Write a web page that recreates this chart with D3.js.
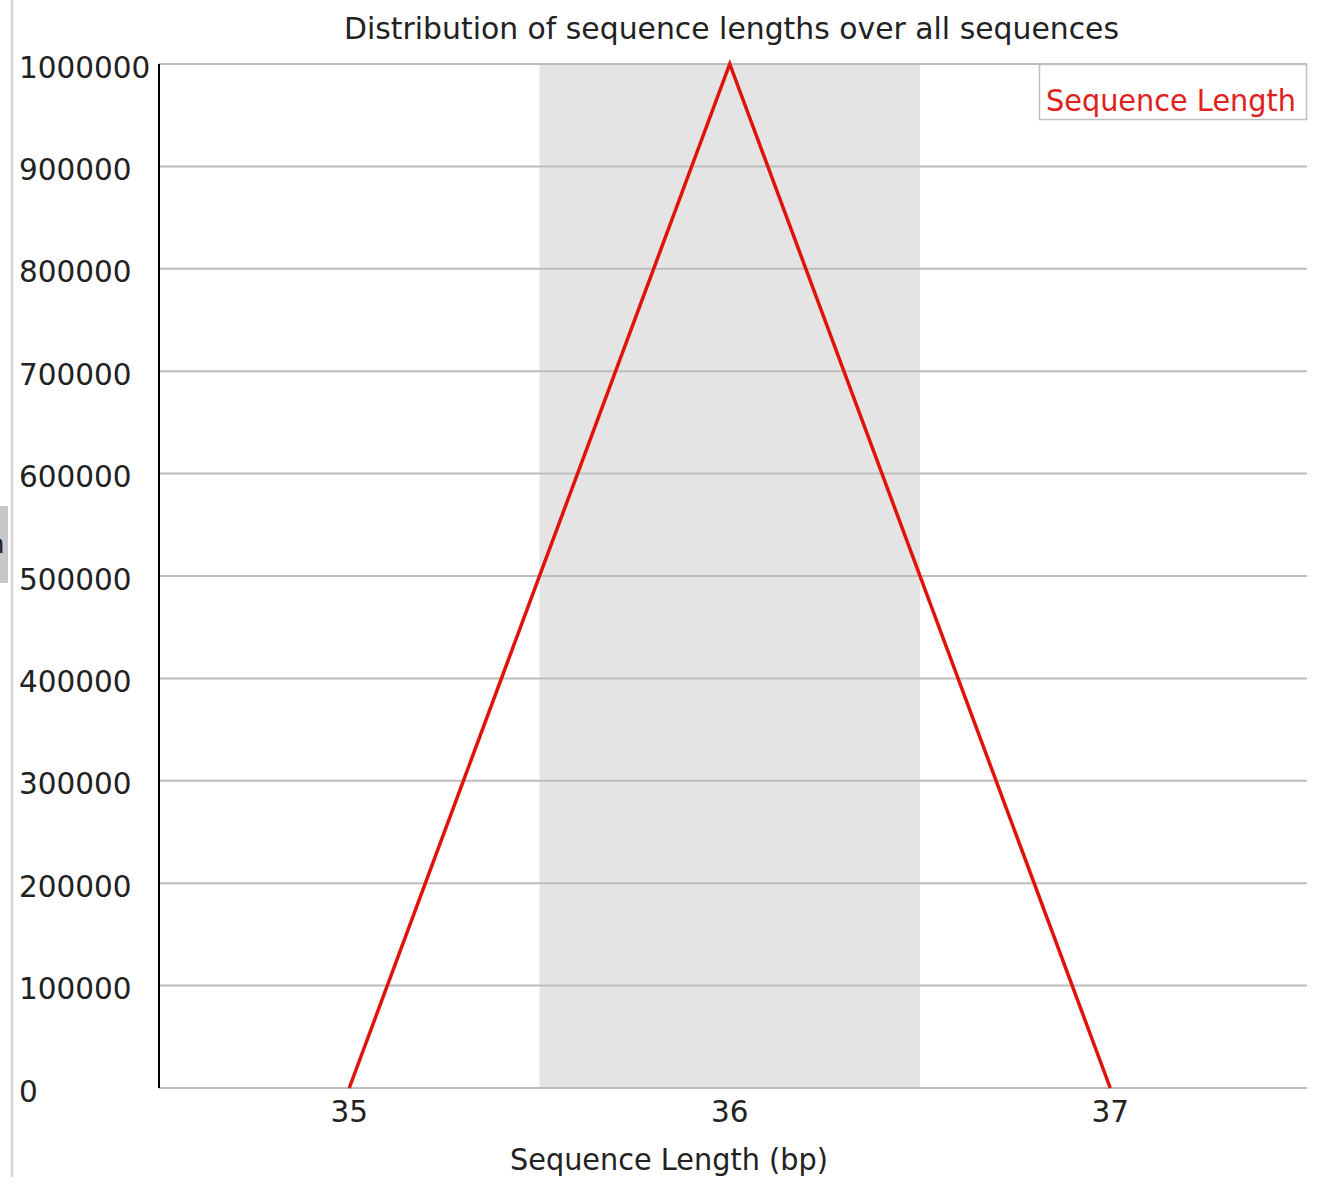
<!DOCTYPE html>
<html>
<head>
<meta charset="utf-8">
<script src="https://cdn.jsdelivr.net/npm/d3@7"></script>
<style>
  html, body { margin: 0; padding: 0; background: #fff; }
  svg { display: block; }
  text { font-family: "DejaVu Sans", sans-serif; }
</style>
</head>
<body>
<svg id="chart" width="1326" height="1189"></svg>
<script>
// Sequence length distribution
const lengths = ["35", "36", "37"];
const counts = [0, 1000000, 0];
const yTicks = [0, 100000, 200000, 300000, 400000, 500000, 600000, 700000, 800000, 900000, 1000000];
const seriesName = "Sequence Length";
const chartTitle = "Distribution of sequence lengths over all sequences";
const xTitle = "Sequence Length (bp)";

const svg = d3.select("#chart");
const plot = { left: 159, right: 1307, top: 64, bottom: 1088 };
const bandW = 380.5;

const x = d3.scaleBand()
  .domain(lengths)
  .range([plot.left, plot.left + bandW * lengths.length])
  .paddingInner(0).paddingOuter(0);
const y = d3.scaleLinear().domain([0, 1000000]).range([plot.bottom, plot.top]);

const fontSize = 29.5;

// window edge decoration on the left
svg.append("line")
  .attr("x1", 12).attr("x2", 12).attr("y1", 0).attr("y2", 1177)
  .attr("stroke", "#d6d6d6").attr("stroke-width", 2.5);
const clip = svg.append("clipPath").attr("id", "tabclip");
clip.append("rect").attr("x", 0).attr("y", 506).attr("width", 8).attr("height", 77);
const tab = svg.append("g").attr("clip-path", "url(#tabclip)");
tab.append("rect").attr("x", 0).attr("y", 506).attr("width", 8).attr("height", 77).attr("fill", "#c8c8c8");
tab.append("text").attr("x", -12).attr("y", 553)
  .attr("font-size", 26).attr("fill", "#222").text("n");

// alternating band shading
svg.append("g").selectAll("rect")
  .data(lengths.filter((d, i) => i % 2 === 1))
  .join("rect")
  .attr("x", d => x(d)).attr("y", plot.top)
  .attr("width", x.bandwidth()).attr("height", plot.bottom - plot.top)
  .attr("fill", "#e4e4e4");

// horizontal gridlines
svg.append("g").selectAll("line")
  .data(yTicks)
  .join("line")
  .attr("x1", plot.left).attr("x2", plot.right)
  .attr("y1", d => y(d)).attr("y2", d => y(d))
  .attr("stroke", "#bcbcbc").attr("stroke-width", 2);

// y axis line
svg.append("line")
  .attr("x1", plot.left).attr("x2", plot.left)
  .attr("y1", plot.top).attr("y2", plot.bottom)
  .attr("stroke", "#000").attr("stroke-width", 2);

// y tick labels
svg.append("g").selectAll("text")
  .data(yTicks)
  .join("text")
  .attr("x", 19).attr("y", d => y(d) + 13.5)
  .attr("font-size", fontSize).attr("fill", "#222")
  .text(d => d3.format("d")(d));

// x tick labels
svg.append("g").selectAll("text")
  .data(lengths)
  .join("text")
  .attr("x", d => x(d) + x.bandwidth() / 2).attr("y", 1122)
  .attr("text-anchor", "middle")
  .attr("font-size", fontSize).attr("fill", "#222")
  .text(d => d);

// title and axis title
svg.append("text")
  .attr("x", 731.5).attr("y", 39)
  .attr("text-anchor", "middle").attr("font-size", fontSize).attr("fill", "#222")
  .attr("textLength", 775).attr("lengthAdjust", "spacingAndGlyphs")
  .text(chartTitle);
svg.append("text")
  .attr("x", 669).attr("y", 1170)
  .attr("text-anchor", "middle").attr("font-size", fontSize).attr("fill", "#222")
  .attr("textLength", 318).attr("lengthAdjust", "spacingAndGlyphs")
  .text(xTitle);

// data line
const line = d3.line()
  .x((d, i) => x(lengths[i]) + x.bandwidth() / 2)
  .y(d => y(d));
svg.append("path")
  .datum(counts)
  .attr("d", line)
  .attr("fill", "none")
  .attr("stroke", "#e0120c").attr("stroke-width", 3.5)
  .attr("stroke-linejoin", "miter");

// legend
const legend = svg.append("g");
legend.append("rect")
  .attr("x", 1039.5).attr("y", 64.5).attr("width", 267).attr("height", 55)
  .attr("fill", "#fff").attr("stroke", "#c0c0c0").attr("stroke-width", 1.5);
legend.append("text")
  .attr("x", 1046).attr("y", 110.5)
  .attr("font-size", fontSize).attr("fill", "#e0201a")
  .attr("textLength", 250).attr("lengthAdjust", "spacingAndGlyphs")
  .text(seriesName);
</script>
</body>
</html>
